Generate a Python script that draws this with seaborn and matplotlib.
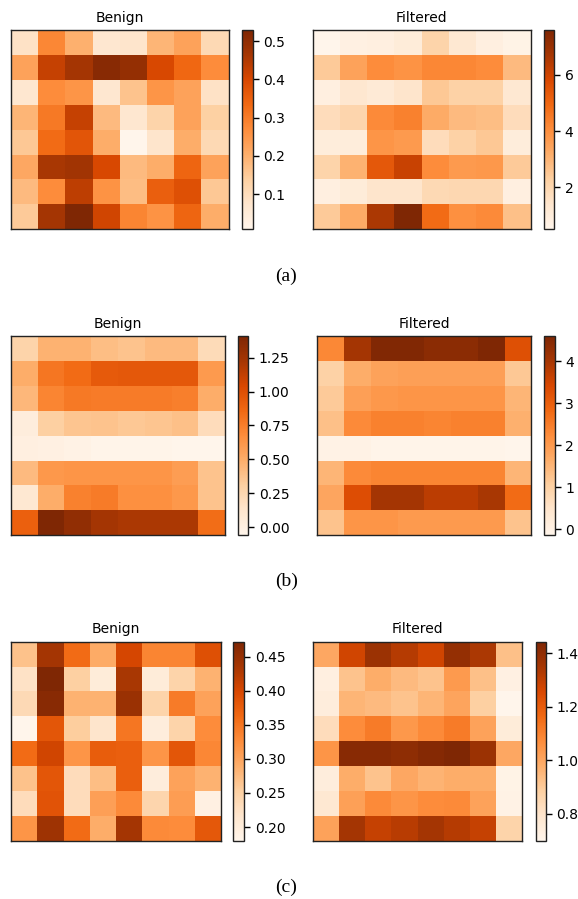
import numpy as np
import matplotlib
matplotlib.use("Agg")
import matplotlib.pyplot as plt
import seaborn as sns

# ---- attention maps (8x8), rows top to bottom ----
a_benign = [
    [0.086, 0.279, 0.201, 0.071, 0.076, 0.190, 0.227, 0.112],
    [0.227, 0.425, 0.466, 0.513, 0.493, 0.399, 0.336, 0.269],
    [0.071, 0.269, 0.253, 0.071, 0.164, 0.253, 0.227, 0.086],
    [0.190, 0.305, 0.425, 0.180, 0.071, 0.128, 0.227, 0.138],
    [0.154, 0.331, 0.373, 0.206, 0.008, 0.076, 0.206, 0.112],
    [0.216, 0.461, 0.472, 0.399, 0.180, 0.206, 0.341, 0.227],
    [0.180, 0.269, 0.435, 0.258, 0.175, 0.352, 0.383, 0.154],
    [0.149, 0.466, 0.529, 0.409, 0.284, 0.258, 0.341, 0.206],
]
a_filtered = [
    [0.50, 0.78, 0.86, 1.07, 2.13, 1.28, 0.86, 0.64],
    [2.42, 3.48, 4.05, 3.91, 4.19, 4.19, 4.05, 2.84],
    [0.86, 1.35, 1.14, 1.42, 2.49, 2.20, 2.20, 1.28],
    [1.78, 2.06, 4.12, 4.33, 3.27, 2.84, 2.77, 1.78],
    [1.00, 1.00, 3.84, 3.70, 1.78, 2.20, 2.49, 1.00],
    [2.13, 3.06, 5.40, 6.11, 4.05, 3.70, 3.77, 2.42],
    [0.86, 1.07, 1.42, 1.42, 1.92, 1.99, 1.99, 0.86],
    [2.42, 3.27, 6.61, 7.60, 4.90, 3.98, 4.12, 2.70],
]
b_benign = [
    [0.278, 0.469, 0.469, 0.410, 0.381, 0.425, 0.425, 0.219],
    [0.499, 0.793, 0.851, 0.940, 0.954, 0.954, 0.954, 0.602],
    [0.440, 0.719, 0.778, 0.763, 0.763, 0.763, 0.749, 0.499],
    [0.043, 0.308, 0.366, 0.381, 0.352, 0.366, 0.396, 0.205],
    [0.014, -0.001, -0.016, -0.045, -0.045, -0.045, -0.060, -0.058],
    [0.425, 0.616, 0.631, 0.631, 0.631, 0.631, 0.587, 0.381],
    [0.102, 0.499, 0.734, 0.763, 0.660, 0.660, 0.616, 0.381],
    [0.910, 1.410, 1.322, 1.234, 1.204, 1.204, 1.204, 0.837],
]
b_filtered = [
    [2.32, 4.03, 4.55, 4.55, 4.41, 4.41, 4.60, 3.27],
    [1.00, 1.66, 1.85, 1.90, 1.90, 1.90, 1.90, 1.19],
    [1.14, 1.90, 2.04, 2.09, 2.09, 2.09, 2.09, 1.52],
    [1.33, 2.28, 2.42, 2.42, 2.37, 2.42, 2.42, 1.61],
    [0.00, 0.00, -0.09, -0.09, -0.09, -0.09, -0.09, -0.14],
    [1.52, 2.28, 2.37, 2.37, 2.37, 2.37, 2.37, 1.52],
    [1.80, 3.32, 4.03, 4.03, 3.75, 3.75, 3.98, 2.80],
    [1.28, 2.09, 2.09, 1.99, 1.99, 1.99, 1.99, 1.28],
]
c_benign = [
    [0.268, 0.437, 0.361, 0.294, 0.402, 0.335, 0.335, 0.390],
    [0.224, 0.472, 0.253, 0.203, 0.434, 0.203, 0.247, 0.285],
    [0.238, 0.463, 0.285, 0.285, 0.446, 0.247, 0.344, 0.303],
    [0.180, 0.384, 0.256, 0.218, 0.349, 0.200, 0.247, 0.326],
    [0.361, 0.405, 0.317, 0.376, 0.373, 0.317, 0.384, 0.332],
    [0.268, 0.384, 0.233, 0.273, 0.373, 0.200, 0.303, 0.285],
    [0.233, 0.387, 0.233, 0.306, 0.329, 0.244, 0.308, 0.192],
    [0.317, 0.443, 0.361, 0.291, 0.437, 0.329, 0.326, 0.381],
]
c_filtered = [
    [0.997, 1.272, 1.376, 1.324, 1.272, 1.391, 1.339, 0.930],
    [0.737, 0.923, 0.982, 0.945, 0.923, 1.034, 0.930, 0.730],
    [0.752, 0.960, 0.945, 0.923, 0.960, 1.005, 0.886, 0.700],
    [0.834, 1.072, 1.116, 1.042, 1.079, 1.116, 1.012, 0.759],
    [1.049, 1.421, 1.421, 1.406, 1.428, 1.443, 1.376, 0.997],
    [0.752, 0.982, 0.923, 0.997, 0.967, 0.982, 0.982, 0.715],
    [0.782, 1.019, 1.079, 1.049, 1.072, 1.079, 1.012, 0.722],
    [1.012, 1.354, 1.294, 1.317, 1.354, 1.324, 1.294, 0.871],
]

panel_titles = ["Benign", "Filtered"]
captions = ["(a)", "(b)", "(c)"]
rows = [(a_benign, a_filtered), (b_benign, b_filtered), (c_benign, c_filtered)]

W, H = 578, 899
fig = plt.figure(figsize=(W / 100, H / 100), dpi=100)


def px_axes(x0, x1, y0, y1):
    return fig.add_axes([x0 / W, 1 - y1 / H, (x1 - x0) / W, (y1 - y0) / H])


# pixel boxes: (heatmap x0, x1, colorbar x0, x1) per panel, and row y-extent
layout = [
    [(11, 228.7, 242, 252.7), (312.7, 530.7, 544, 554.3)],
    [(10.7, 225.3, 238, 248.3), (317.3, 531.3, 544.3, 555)],
    [(11, 221, 233.3, 244.3), (312.7, 522.3, 535.7, 546)],
]
row_y = [(30, 229.3), (336, 535.3), (641.7, 840.7)]
caption_y = [276, 581, 887]

for r, (pair, boxes) in enumerate(zip(rows, layout)):
    y0, y1 = row_y[r]
    for data, title, (hx0, hx1, cx0, cx1) in zip(pair, panel_titles, boxes):
        ax = px_axes(hx0, hx1, y0, y1)
        cax = px_axes(cx0, cx1, y0, y1)
        sns.heatmap(np.array(data), ax=ax, cbar_ax=cax, cmap="Oranges",
                    xticklabels=False, yticklabels=False)
        ax.set_title(title, fontsize=10)
        for sp in ax.spines.values():
            sp.set_visible(True)
            sp.set_linewidth(1.0)
            sp.set_color("#222222")
        cb = ax.collections[0].colorbar
        cb.outline.set_visible(True)
        cb.outline.set_linewidth(1.0)
        cb.outline.set_edgecolor("#222222")
        cax.tick_params(labelsize=10, length=4, width=1)
    fig.text(286.5 / W, 1 - caption_y[r] / H, captions[r], ha="center",
             va="center", family="Liberation Serif", fontsize=14)

fig.savefig("out.png", dpi=100)
